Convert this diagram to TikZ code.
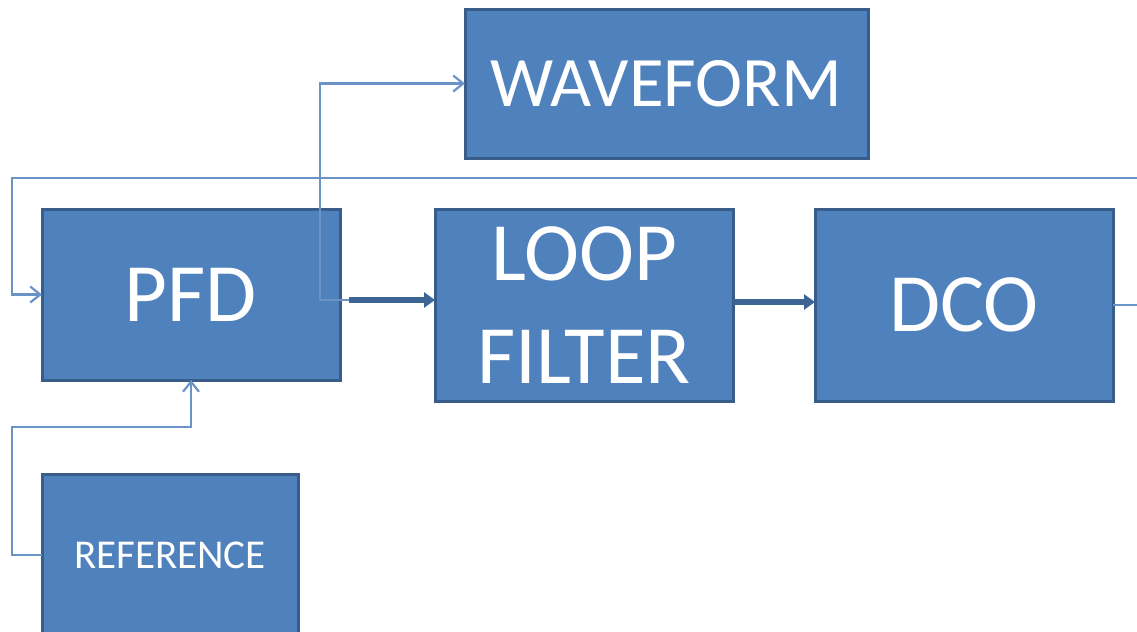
\documentclass[tikz,border=0pt]{standalone}
\usepackage{fontspec}
\setmainfont{Carlito}
\usetikzlibrary{arrows.meta,positioning}
\definecolor{boxblue}{HTML}{4F81BD}
\definecolor{boxedge}{HTML}{385D8A}
\definecolor{wireblue}{HTML}{6A93C8}
\definecolor{busblue}{HTML}{3C6595}

\begin{document}
\begin{tikzpicture}[
  x=0.5pt, y=-0.5pt,
  block/.style={draw=boxedge, line width=1.5pt, fill=boxblue, text=white, align=center, minimum width=149pt, inner sep=0pt, outer sep=0pt},
  big/.style={font=\fontsize{41.5}{51.5}\selectfont},
  wire/.style={-{Straight Barb[length=5pt,width=8pt]}, wireblue, line width=1.1pt},
  bus/.style={-{Triangle[length=5.5pt,width=7.5pt]}, busblue, line width=2.8pt}
]
  \useasboundingbox (0,0) rectangle (1137,632);
  \clip (0,0) rectangle (1137,632);

  \node[block, big, minimum height=85.5pt] (pfd) at (191,294.5) {PFD};
  \node[block, big, minimum height=96pt, right=47.5pt of pfd.north east, anchor=north west] (loop) {LOOP\\FILTER};
  \node[block, big, minimum height=96pt, right=41pt of loop] (dco) {DCO};
  \node[block, font=\fontsize{35.5}{40}\selectfont, minimum width=201.5pt, minimum height=74.5pt] (wave) at (666.5,83.5) {WAVEFORM};
  \node[block, font=\fontsize{20.5}{24}\selectfont, minimum width=128pt, minimum height=81pt, below=47pt of pfd.south west, anchor=north west] (ref) {REFERENCE};

  % bend points of the wires
  \coordinate (tap) at (349,300);
  \coordinate (tapbend) at (320,300);
  \coordinate (fbright) at (1180,178);
  \coordinate (fbleft) at (12,178);
  \coordinate (refbend) at (12,427);

  \draw[bus] (tap) -- (tap -| loop.west);
  \draw[bus] ([yshift=1.5pt]loop.east) -- ([yshift=1.5pt]dco.west);
  \draw[wire] (tap) -- (tapbend) |- (wave.west);
  \draw[wire] (dco.east) -| (fbright) -- (fbleft) |- (pfd.west);
  \draw[wire] (ref.west) -| (refbend) -| (pfd.south);
\end{tikzpicture}
\end{document}
